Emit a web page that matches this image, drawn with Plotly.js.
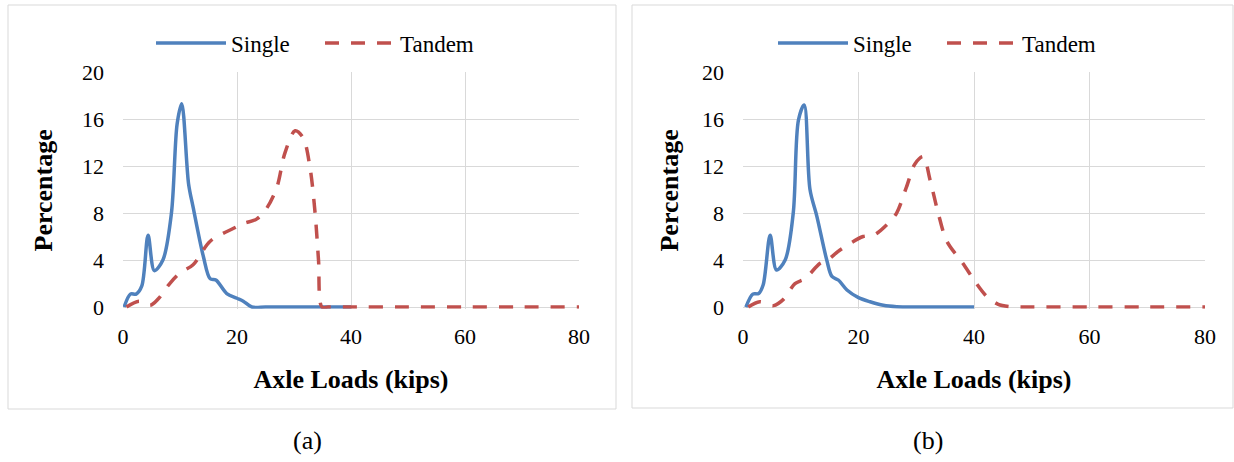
<!DOCTYPE html>
<html>
<head>
<meta charset="utf-8">
<script src="https://cdn.plot.ly/plotly-3.0.1.min.js"></script>
<style>
html,body{margin:0;padding:0;background:#fff;}
#chart{width:1234px;height:462px;}
svg text{font-family:"Liberation Serif",serif !important;}
</style>
</head>
<body>
<div id="chart"></div>
<script>
// ---- Data ----
const seriesNames = ["Single", "Tandem"];
const panelCaptions = ["(a)", "(b)"];
const xTitle = "Axle Loads (kips)";
const yTitle = "Percentage";

// Panel (a)
const singleAx = [0.2, 1.3, 2.3, 3.3, 4.4, 5.5, 7.0, 8.5, 9.5, 10.3, 11.5, 12.3, 14.1, 15.3, 16.3, 18.2, 20.0, 21.1, 22.6, 25, 30, 35, 40];
const singleAy = [0, 1.1, 1.1, 1.8, 6.1, 3.1, 4.0, 8.0, 15.6, 17.3, 10.5, 8.5, 4.3, 2.4, 2.3, 1.15, 0.75, 0.5, 0, 0, 0, 0, 0];
const tandemAx = [0.6, 2.8, 4.8, 6.2, 8.2, 10.0, 12.3, 15.3, 19.4, 21.1, 23.5, 25.2, 27.0, 28.4, 30.2, 31.6, 32.8, 33.7, 34.3, 34.9, 36, 40, 50, 60, 70, 80];
const tandemAy = [0, 0.5, 0.15, 0.7, 2.0, 2.9, 3.6, 5.6, 6.7, 7.1, 7.5, 8.4, 10.2, 13.1, 15.0, 14.4, 11.9, 8.0, 4.0, 0, 0, 0, 0, 0, 0, 0];

// Panel (b)
const singleBx = [0.5, 1.7, 2.7, 3.5, 4.7, 5.8, 7.3, 8.7, 9.6, 10.6, 11.6, 12.8, 14.5, 15.4, 16.5, 18.0, 20.0, 22.0, 24.3, 26.6, 30, 35, 40];
const singleBy = [0, 1.1, 1.15, 1.9, 6.1, 3.15, 4.0, 8.0, 15.9, 17.2, 10.0, 7.7, 4.0, 2.6, 2.3, 1.45, 0.8, 0.45, 0.15, 0.03, 0, 0, 0];
const tandemBx = [0.9, 2.9, 5.3, 7.0, 9.0, 10.7, 13.3, 14.5, 16.8, 20.8, 22.6, 24.9, 26.6, 28.3, 29.8, 31.2, 32.4, 33.8, 35.3, 38.1, 40.2, 42.2, 44.2, 46, 50, 60, 70, 80];
const tandemBy = [0, 0.45, 0.12, 0.65, 2.0, 2.4, 3.7, 3.95, 4.85, 6.0, 6.1, 7.0, 8.0, 10.2, 12.2, 12.8, 10.8, 8.0, 5.6, 3.7, 2.15, 0.9, 0.23, 0.05, 0, 0, 0, 0];

// ---- Styling ----
const W = 1234, H = 462;
const FONT = 'Liberation Serif';
const BLUE = '#4F81BD', RED = '#C0504D', GRID = '#D9D9D9';
const px = v => v / W, py = v => (H - v) / H;

function lineTrace(x, y, name, color, dash, xa, ya, legend) {
  return {
    type: 'scatter', mode: 'lines', x: x, y: y, name: name,
    xaxis: xa, yaxis: ya, legend: legend,
    line: {color: color, width: 3.5, dash: dash, shape: 'spline', smoothing: 0.9},
    hoverinfo: 'x+y'
  };
}

const data = [
  lineTrace(singleAx, singleAy, seriesNames[0], BLUE, 'solid', 'x', 'y', 'legend'),
  lineTrace(tandemAx, tandemAy, seriesNames[1], RED, '14px,12px', 'x', 'y', 'legend'),
  lineTrace(singleBx, singleBy, seriesNames[0], BLUE, 'solid', 'x2', 'y2', 'legend2'),
  lineTrace(tandemBx, tandemBy, seriesNames[1], RED, '14px,12px', 'x2', 'y2', 'legend2')
];

function xAxis(domain, anchor) {
  return {
    domain: domain, anchor: anchor, range: [0, 80], dtick: 20, tick0: 0,
    showgrid: true, gridcolor: GRID, gridwidth: 1, zeroline: false, showline: false,
    ticks: '', ticklabelstandoff: 12, automargin: false,
    tickfont: {family: FONT, size: 22, color: '#000'},
    title: {text: xTitle, font: {family: FONT, size: 26, color: '#000', weight: 'bold'}, standoff: 22},
    fixedrange: true
  };
}
function yAxis(anchor, standoff) {
  return {
    domain: [py(308.8), py(72)], anchor: anchor, range: [-0.15, 20], tickvals: [0, 4, 8, 12, 16, 20],
    showgrid: true, gridcolor: GRID, gridwidth: 1, zeroline: false, showline: false,
    ticks: '', ticklabelstandoff: 18, automargin: false,
    tickfont: {family: FONT, size: 22, color: '#000'},
    title: {text: yTitle, font: {family: FONT, size: 26, color: '#000', weight: 'bold'}, standoff: standoff},
    fixedrange: true
  };
}

function legendCfg(xpix) {
  return {
    orientation: 'h', x: px(xpix), y: py(43), xanchor: 'left', yanchor: 'middle',
    xref: 'paper', yref: 'paper', bgcolor: 'rgba(0,0,0,0)', borderwidth: 0,
    itemwidth: 70, entrywidth: 84, entrywidthmode: 'pixels',
    font: {family: FONT, size: 23, color: '#000'}, itemclick: false, itemdoubleclick: false
  };
}

const layout = {
  width: W, height: H, margin: {l: 0, r: 0, t: 0, b: 0, pad: 0, autoexpand: false},
  paper_bgcolor: '#fff', plot_bgcolor: '#fff',
  font: {family: FONT, color: '#000'},
  showlegend: true,
  xaxis: xAxis([px(123), px(579)], 'y'),
  yaxis: yAxis('x', 21),
  xaxis2: xAxis([px(743), px(1205)], 'y2'),
  yaxis2: yAxis('x2', 15),
  legend: legendCfg(151),
  legend2: legendCfg(773),
  shapes: [
    {type: 'rect', xref: 'paper', yref: 'paper', x0: px(8), x1: px(616), y0: py(409), y1: py(5), line: {color: GRID, width: 1}, layer: 'below'},
    {type: 'rect', xref: 'paper', yref: 'paper', x0: px(632), x1: px(1233), y0: py(408), y1: py(5), line: {color: GRID, width: 1}, layer: 'below'}
  ],
  annotations: [
    {text: panelCaptions[0], xref: 'paper', yref: 'paper', x: px(307), y: py(440), showarrow: false, xanchor: 'center', yanchor: 'middle', font: {family: FONT, size: 26, color: '#000'}},
    {text: panelCaptions[1], xref: 'paper', yref: 'paper', x: px(928), y: py(440), showarrow: false, xanchor: 'center', yanchor: 'middle', font: {family: FONT, size: 26, color: '#000'}}
  ]
};

const gd = document.getElementById('chart');
function stretchLegendLines() {
  gd.querySelectorAll('.legendlines path').forEach(p => p.setAttribute('d', 'M5,0h70'));
}
Plotly.newPlot(gd, data, layout, {displayModeBar: false}).then(() => {
  stretchLegendLines();
  gd.on('plotly_afterplot', stretchLegendLines);
});
</script>
</body>
</html>
